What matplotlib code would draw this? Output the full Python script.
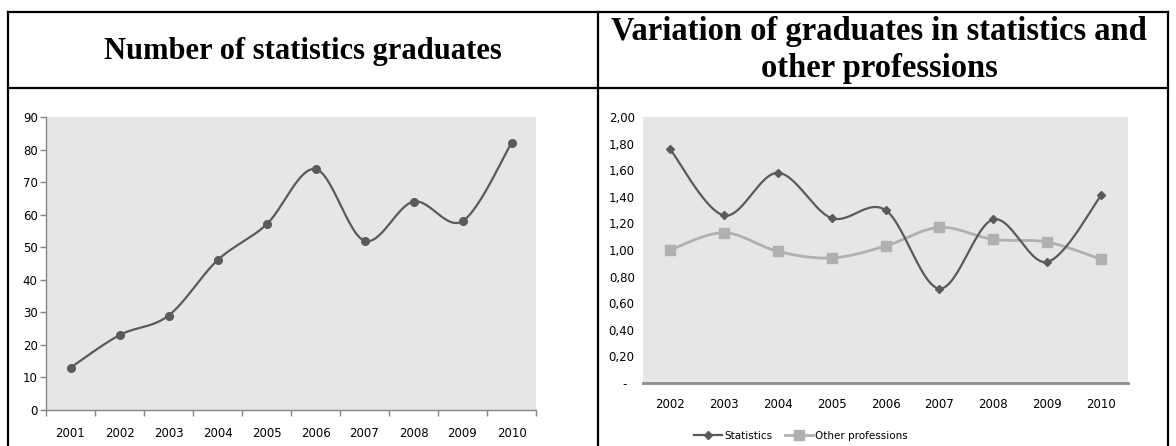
import matplotlib
matplotlib.use("Agg")
import matplotlib.pyplot as plt
from matplotlib.lines import Line2D
import numpy as np

W, H = 1176, 446

# data
years_left = ["2001", "2002", "2003", "2004", "2005", "2006", "2007", "2008", "2009", "2010"]
graduates = [13, 23, 29, 46, 57, 74, 52, 64, 58, 82]

years_right = ["2002", "2003", "2004", "2005", "2006", "2007", "2008", "2009", "2010"]
var_statistics = [1.76, 1.26, 1.58, 1.24, 1.30, 0.71, 1.23, 0.91, 1.41]
var_other = [1.00, 1.13, 0.99, 0.94, 1.03, 1.17, 1.08, 1.06, 0.93]

title_left = "Number of statistics graduates"
title_right = "Variation of graduates in statistics and\nother professions"

DARK = "#5a5a5a"
LIGHT = "#b0b0b0"
BG = "#e6e6e6"
AXIS = "#868686"


def rect(l, t, r, b):
    return [l / W, 1 - b / H, (r - l) / W, (b - t) / H]


def smooth(ax, xs, ys, n=30):
    # Excel-like smoothed line (Catmull-Rom / Bezier), done in pixel space
    bb = ax.get_position()
    x0, x1 = ax.get_xlim()
    y0, y1 = ax.get_ylim()
    sx = bb.width * W / (x1 - x0)
    sy = bb.height * H / (y1 - y0)
    p = np.column_stack([np.asarray(xs, float) * sx, np.asarray(ys, float) * sy])
    p = np.vstack([p[0], p, p[-1]])
    t = np.linspace(0, 1, n)[:, None]
    out = []
    for i in range(1, len(p) - 2):
        a, b = p[i], p[i + 1]
        c1 = a + (b - p[i - 1]) / 6
        c2 = b - (p[i + 2] - a) / 6
        seg = (1 - t) ** 3 * a + 3 * (1 - t) ** 2 * t * c1 + 3 * (1 - t) * t ** 2 * c2 + t ** 3 * b
        out.append(seg if i == 1 else seg[1:])
    out = np.vstack(out)
    return out[:, 0] / sx, out[:, 1] / sy


fig = plt.figure(figsize=(W / 100, H / 100), dpi=100)

# table frame
def fline(xs, ys):
    fig.add_artist(Line2D([x / W for x in xs], [1 - y / H for y in ys], color="black", lw=1.6,
                          transform=fig.transFigure, solid_capstyle="projecting"))

fline([8, 1168], [12, 12])
fline([8, 1168], [88, 88])
fline([8, 8], [12, 446])
fline([598, 598], [12, 446])
fline([1168, 1168], [12, 446])

fig.text(303 / W, 1 - 51 / H, title_left, ha="center", va="center", fontsize=22,
         fontweight="bold", family="Liberation Serif")
fig.text(879 / W, 1 - 50 / H, title_right, ha="center", va="center", fontsize=23.5,
         fontweight="bold", family="Liberation Serif", linespacing=1.25, multialignment="center")

# left chart
ax1 = fig.add_axes(rect(46, 117, 536, 410))
ax1.set_facecolor(BG)
xl = np.arange(len(years_left))
ax1.set_xlim(-0.5, len(years_left) - 0.5)
ax1.set_ylim(0, 90)
sx, sy = smooth(ax1, xl, graduates)
ax1.plot(sx, sy, color=DARK, lw=1.6, zorder=3)
ax1.plot(xl, graduates, ls="none", marker="o", ms=5.5, color=DARK, zorder=4)
ax1.set_yticks(np.arange(0, 91, 10))
ax1.set_xticks(np.arange(-0.5, len(years_left), 1))
ax1.set_xticklabels([])
ax1.set_xticks(xl, minor=True)
ax1.set_xticklabels(years_left, minor=True)
ax1.tick_params(axis="x", which="minor", length=0, pad=12)
ax1.tick_params(axis="both", which="major", length=4, width=1, color=AXIS, direction="out")
ax1.tick_params(axis="y", pad=2)
ax1.tick_params(which="both", labelsize=8.5)
for s in ["top", "right"]:
    ax1.spines[s].set_visible(False)
for s in ["left", "bottom"]:
    ax1.spines[s].set_color(AXIS)
    ax1.spines[s].set_linewidth(1)

# right chart
ax2 = fig.add_axes(rect(643, 117, 1128, 383))
ax2.set_facecolor(BG)
xr = np.arange(len(years_right))
ax2.set_xlim(-0.5, len(years_right) - 0.5)
ax2.set_ylim(0, 2.0)
sx, sy = smooth(ax2, xr, var_other)
ax2.plot(sx, sy, color=LIGHT, lw=2, zorder=3)
sx, sy = smooth(ax2, xr, var_statistics)
ax2.plot(sx, sy, color=DARK, lw=1.6, zorder=3)
ax2.plot(xr, var_other, ls="none", marker="s", ms=7, color=LIGHT, zorder=4)
ax2.plot(xr, var_statistics, ls="none", marker="D", ms=4.5, color=DARK, zorder=4)
yt = np.arange(0, 2.01, 0.2)
ax2.set_yticks(yt)
ax2.set_yticklabels(["-  " if v == 0 else f"{v:.2f}".replace(".", ",") for v in yt])
ax2.set_xticks(xr)
ax2.set_xticklabels(years_right)
ax2.tick_params(axis="both", length=0, labelsize=8.5)
ax2.tick_params(axis="y", pad=6)
ax2.tick_params(axis="x", pad=11)
for s in ["top", "right", "left"]:
    ax2.spines[s].set_visible(False)
ax2.spines["bottom"].set_color("#8c8c8c")
ax2.spines["bottom"].set_linewidth(2)

h1 = Line2D([], [], color=DARK, lw=1.6, marker="D", ms=4.5)
h2 = Line2D([], [], color=LIGHT, lw=2, marker="s", ms=7)
ax2.legend([h1, h2], ["Statistics", "Other professions"], loc="center",
           bbox_to_anchor=(801 / W, 1 - 436 / H), bbox_transform=fig.transFigure,
           ncol=2, frameon=False, fontsize=7.5, handlelength=2.7, handletextpad=0.2, columnspacing=1.2)

fig.savefig("out.png", dpi=100)
